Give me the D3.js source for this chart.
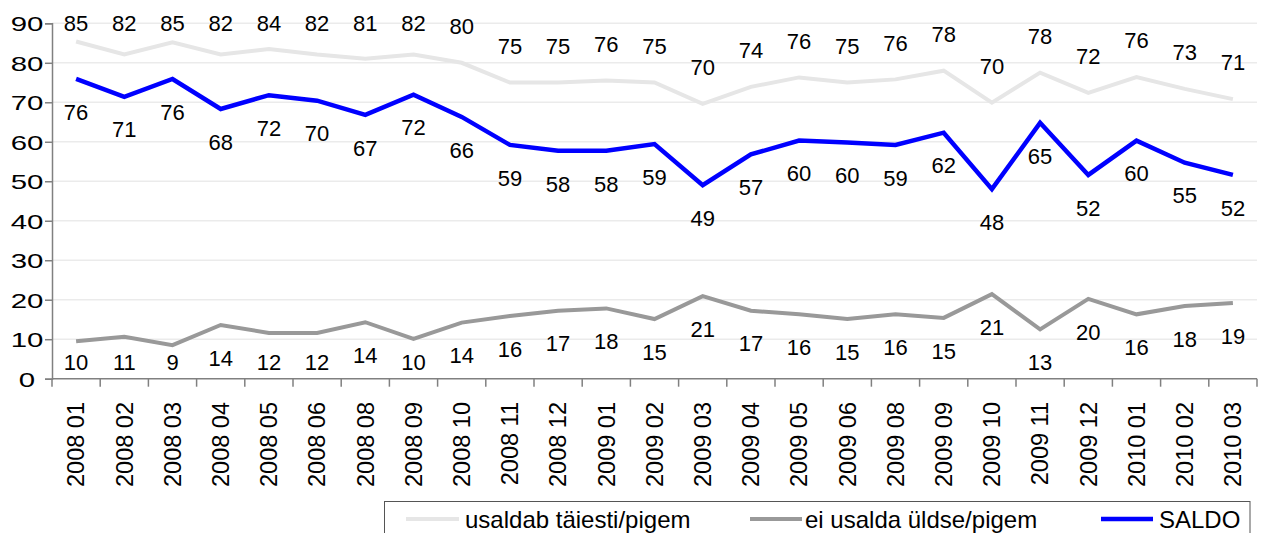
<!DOCTYPE html>
<html>
<head>
  <meta charset="utf-8">
  <script src="https://d3js.org/d3.v7.min.js"></script>
  <style>
    body { margin: 0; background: white; }
    svg text { font-family: "Liberation Sans", Arial, sans-serif; fill: #000; }
  </style>
</head>
<body>
<svg id="chart" width="1261" height="533"></svg>
<script>
  // categories (survey months)
  let months = ["2008 01", "2008 02", "2008 03", "2008 04", "2008 05", "2008 06", "2008 08", "2008 09",
    "2008 10", "2008 11", "2008 12", "2009 01", "2009 02", "2009 03", "2009 04", "2009 05", "2009 06",
    "2009 08", "2009 09", "2009 10", "2009 11", "2009 12", "2010 01", "2010 02", "2010 03"];

  // series values (as plotted)
  let trust = [85.4, 82.1, 85.2, 82.1, 83.5, 82.1, 81.0, 82.1, 80.0, 75.0, 75.0, 75.5, 75.0, 69.6, 73.9,
    76.3, 75.0, 75.8, 78.0, 69.9, 77.5, 72.4, 76.4, 73.4, 70.8];
  let distrust = [9.5, 10.6, 8.5, 13.6, 11.6, 11.6, 14.3, 10.1, 14.2, 15.9, 17.2, 17.8, 15.1, 20.9, 17.2,
    16.3, 15.1, 16.3, 15.4, 21.4, 12.5, 20.2, 16.3, 18.4, 19.2];
  let saldo = [75.9, 71.4, 75.9, 68.3, 71.8, 70.4, 66.8, 71.9, 66.3, 59.2, 57.7, 57.7, 59.4, 49.0, 56.8,
    60.3, 59.8, 59.2, 62.3, 48.0, 64.8, 51.6, 60.3, 54.7, 51.6];

  // data labels as printed on the chart
  let trustLabels = [85, 82, 85, 82, 84, 82, 81, 82, 80, 75, 75, 76, 75, 70, 74, 76, 75, 76, 78, 70, 78, 72, 76, 73, 71];
  let distrustLabels = [10, 11, 9, 14, 12, 12, 14, 10, 14, 16, 17, 18, 15, 21, 17, 16, 15, 16, 15, 21, 13, 20, 16, 18, 19];
  let saldoLabels = [76, 71, 76, 68, 72, 70, 67, 72, 66, 59, 58, 58, 59, 49, 57, 60, 60, 59, 62, 48, 65, 52, 60, 55, 52];

  let yTicks = [0, 10, 20, 30, 40, 50, 60, 70, 80, 90];
  let seriesNames = ["usaldab täiesti/pigem", "ei usalda üldse/pigem", "SALDO"];

  let svg = d3.select("#chart");
  let plotLeft = 52, plotRight = 1257, plotTop = 23.3, plotBottom = 378.7;

  let x = d3.scaleBand().domain(months).range([plotLeft, plotRight]);
  let y = d3.scaleLinear().domain([0, 90]).range([plotBottom, plotTop]);
  let cx = d => x(d) + x.bandwidth() / 2;

  // gridlines
  svg.append("g").selectAll("line").data(yTicks.filter(t => t > 0)).join("line")
    .attr("x1", plotLeft).attr("x2", plotRight)
    .attr("y1", d => y(d)).attr("y2", d => y(d))
    .style("stroke", "#ebebeb").style("stroke-width", 1.5);

  // y axis
  let yAxis = svg.append("g").attr("transform", `translate(${plotLeft},0)`)
    .call(d3.axisLeft(y).tickValues(yTicks).tickSize(7).tickFormat(d3.format("d")));
  yAxis.select(".domain").style("stroke", "#808080").style("stroke-width", 1.5);
  yAxis.selectAll(".tick line").style("stroke", "#808080").style("stroke-width", 1.5);
  yAxis.selectAll(".tick text")
    .attr("x", null).attr("dy", null)
    .attr("text-anchor", "middle")
    .attr("transform", "translate(-25,7.5) scale(1.4,1)")
    .style("font-size", "21px");

  // x axis: ticks on the band boundaries
  let xAxisG = svg.append("g");
  xAxisG.append("line").attr("x1", plotLeft).attr("x2", plotRight).attr("y1", plotBottom).attr("y2", plotBottom)
    .style("stroke", "#808080").style("stroke-width", 1.5);
  xAxisG.selectAll("line.tk").data(months.concat(["end"])).join("line").attr("class", "tk")
    .attr("x1", (d, i) => plotLeft + i * x.step()).attr("x2", (d, i) => plotLeft + i * x.step())
    .attr("y1", plotBottom).attr("y2", plotBottom + 8)
    .style("stroke", "#808080").style("stroke-width", 1.5);
  xAxisG.selectAll("text").data(months).join("text")
    .attr("transform", d => `translate(${cx(d)},402) rotate(-90)`)
    .attr("text-anchor", "end").attr("dy", "0.35em")
    .style("font-size", "23.5px")
    .text(d => d);

  // lines
  let series = [
    { values: trust, labels: trustLabels, color: "#e6e6e6", width: 4 },
    { values: distrust, labels: distrustLabels, color: "#999999", width: 4 },
    { values: saldo, labels: saldoLabels, color: "#0000ff", width: 4.5 }
  ];
  let line = d3.line().x((d, i) => cx(months[i])).y(d => y(d));
  series.forEach(s => {
    svg.append("path").datum(s.values).attr("d", line)
      .style("fill", "none").style("stroke", s.color).style("stroke-width", s.width)
      .style("stroke-linejoin", "miter");
  });

  // data labels
  function labelY(si, v) {
    if (si === 0) return Math.max(y(v) - 36.5, 23);
    if (si === 1) return Math.min(y(v) + 33, 362);
    return y(v) + 33;
  }
  series.forEach((s, si) => {
    svg.append("g").selectAll("text").data(s.labels).join("text")
      .attr("x", (d, i) => cx(months[i]))
      .attr("y", (d, i) => labelY(si, s.values[i]))
      .attr("dy", "0.35em").attr("text-anchor", "middle")
      .style("font-size", "22px")
      .text(d => d);
  });

  // legend
  let legend = svg.append("g");
  legend.append("rect").attr("x", 384.5).attr("y", 501.5).attr("width", 865.5).attr("height", 40)
    .style("fill", "white").style("stroke", "#555").style("stroke-width", 1);
  let legendX = [[406, 459, 465], [750, 802, 805], [1101, 1153, 1159]];
  seriesNames.forEach((name, i) => {
    legend.append("line").attr("x1", legendX[i][0]).attr("x2", legendX[i][1]).attr("y1", 519).attr("y2", 519)
      .style("stroke", series[i].color).style("stroke-width", series[i].width);
    legend.append("text").attr("x", legendX[i][2]).attr("y", 527.5)
      .style("font-size", "24px").text(name);
  });
</script>
</body>
</html>
